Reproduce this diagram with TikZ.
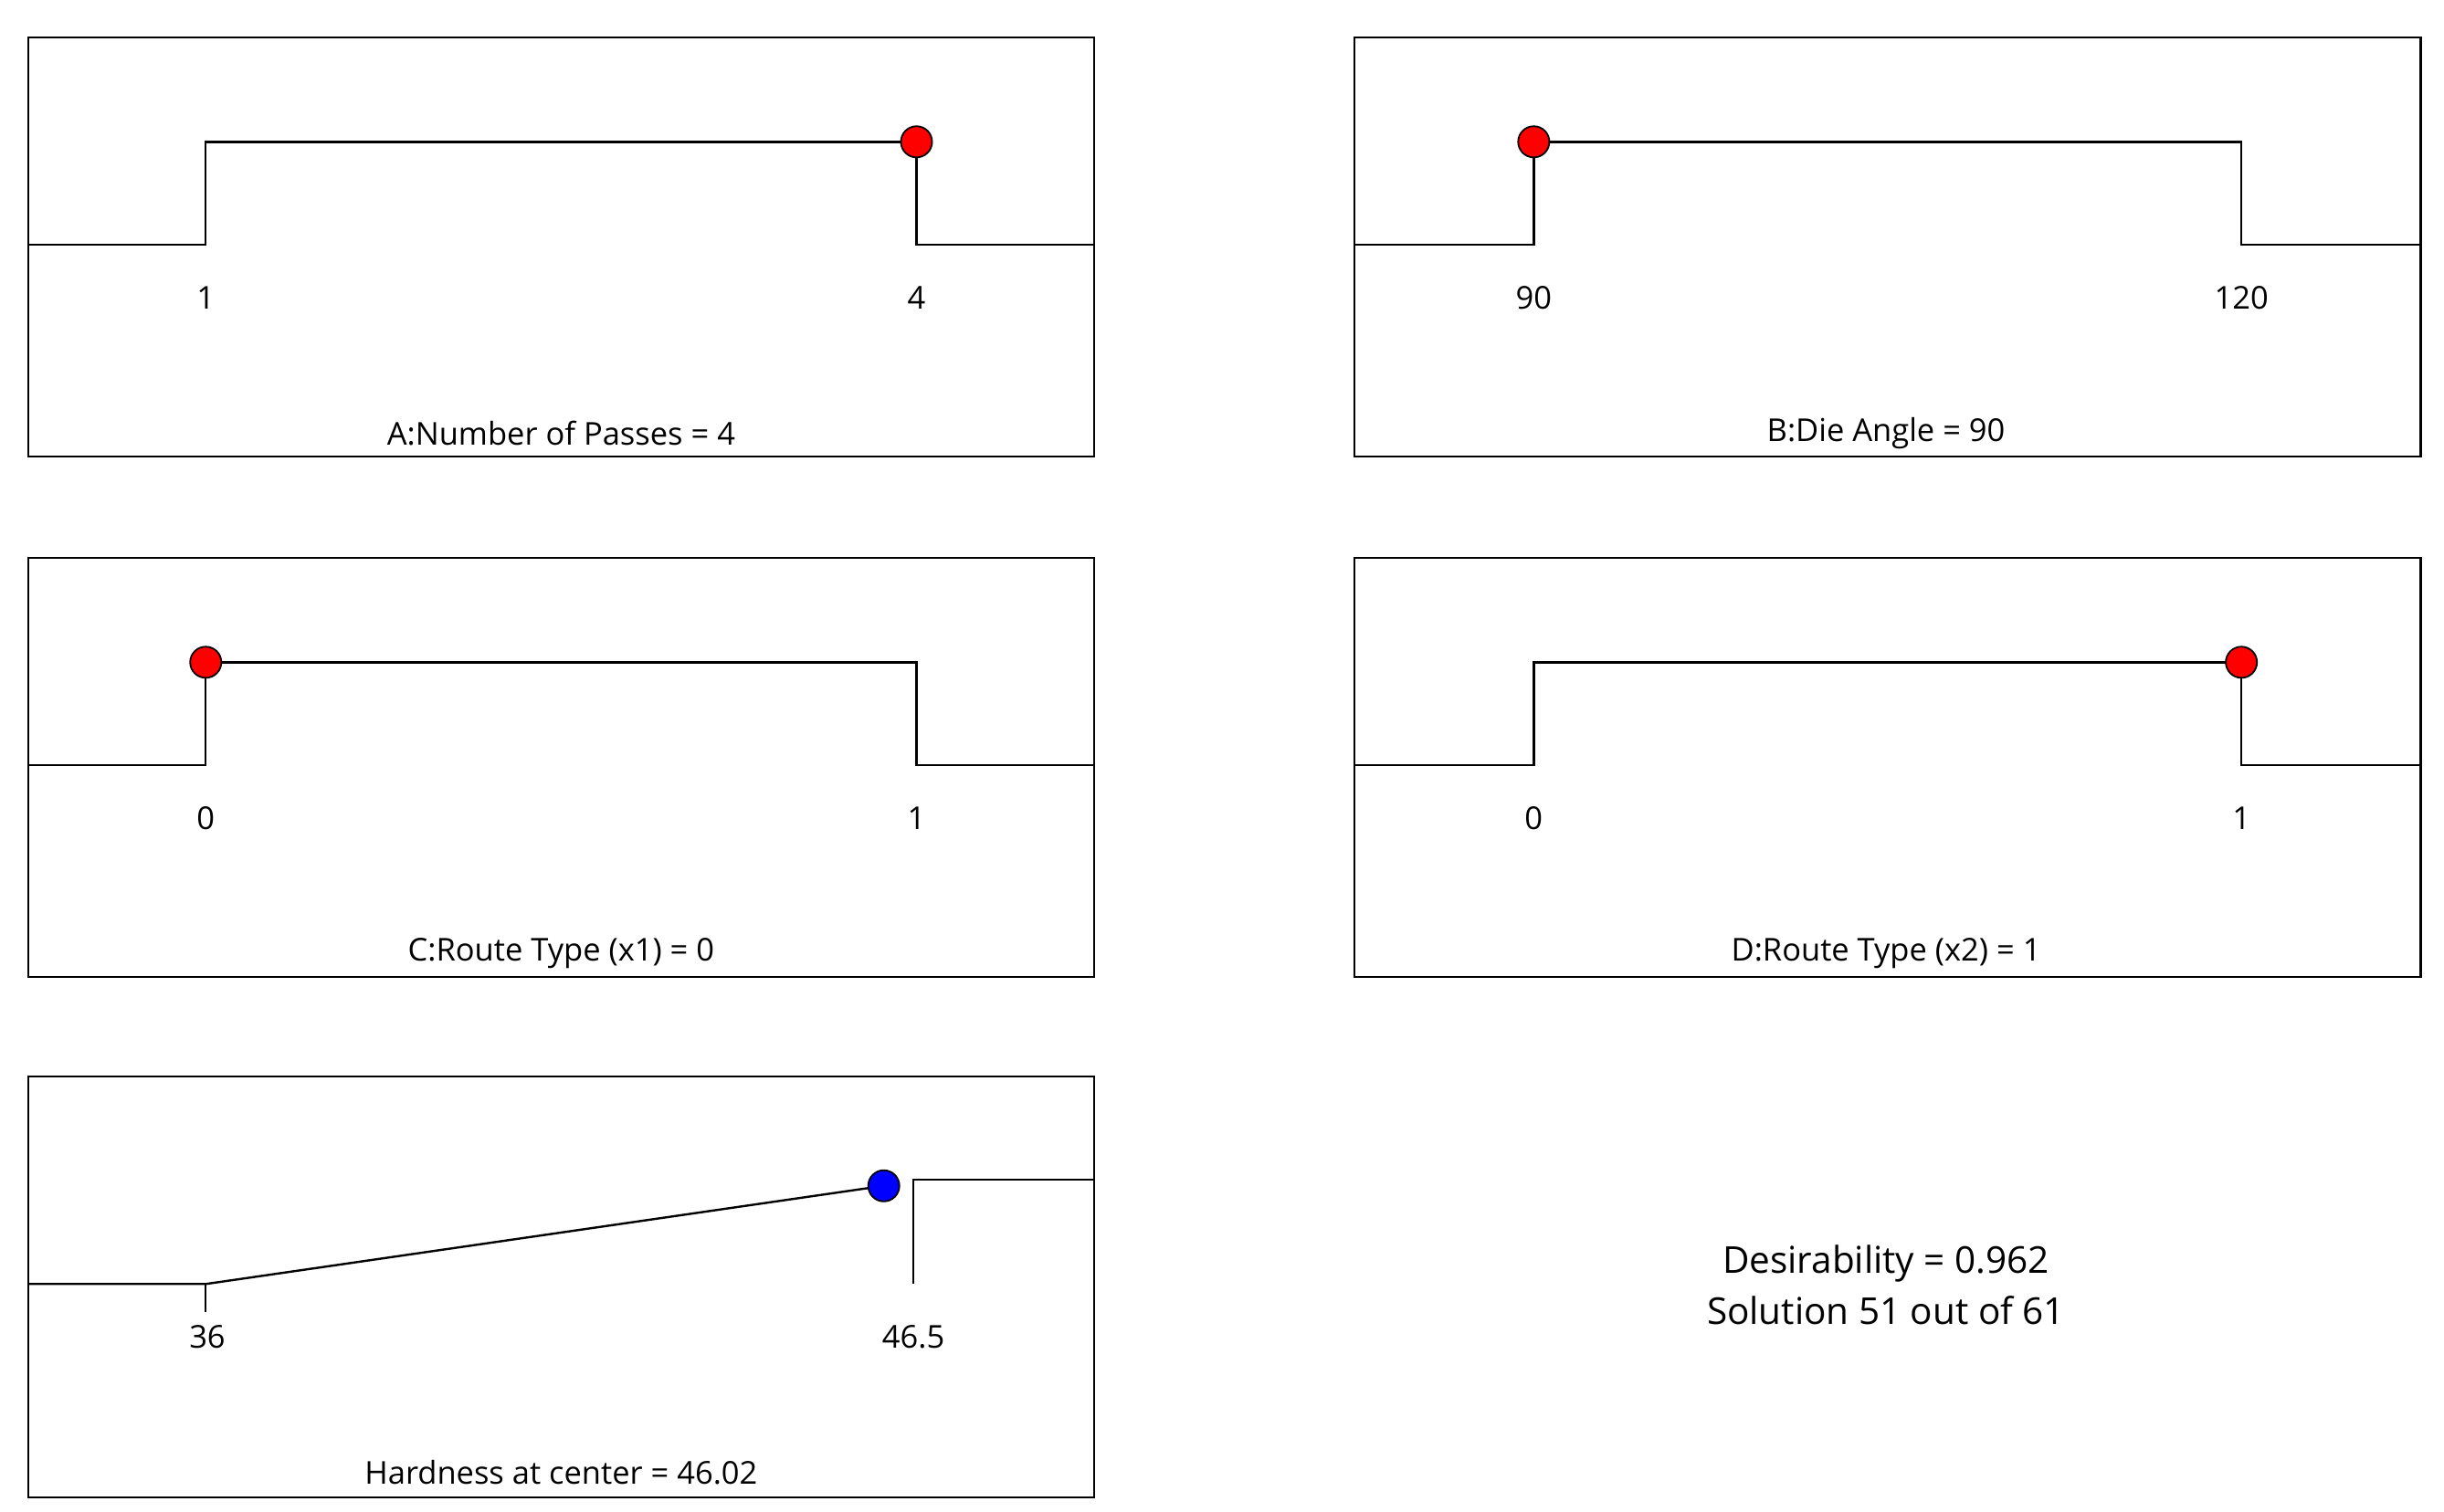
\documentclass[tikz,border=0pt]{standalone}
\usepackage{fontspec}
\setmainfont{Open Sans}
\begin{document}
\begin{tikzpicture}[x=0.02cm,y=-0.02cm,
  box/.style={draw,line width=0.8pt},
  ln/.style={line width=0.8pt},
  lab/.style={font=\fontsize{11.5}{13}\selectfont,inner sep=0pt},
  rdot/.style={circle,draw=black,fill=red,minimum size=0.4cm,inner sep=0pt,line width=0.6pt},
  bdot/.style={circle,draw=black,fill=blue,minimum size=0.4cm,inner sep=0pt,line width=0.6pt}]
\useasboundingbox (0,0) rectangle (1568,970);
% panel A
\draw[box] (18,24) rectangle (702,293);
\draw[ln] (18,157) -- (132,157) -- (132,91) -- (588,91) -- (588,157) -- (702,157);
\node[rdot] (da) at (588,91) {};
\node[lab] (a1) at (132,191) {1};
\node[lab] (a2) at (588,191) {4};
\node[lab] (ta) at (360,278) {A:Number of Passes = 4};
% panel B
\draw[box] (869,24) rectangle (1553,293);
\draw[ln] (869,157) -- (984,157) -- (984,91) -- (1438,91) -- (1438,157) -- (1553,157);
\node[rdot] (db) at (984,91) {};
\node[lab] (b1) at (984,191) {90};
\node[lab] (b2) at (1438,191) {120};
\node[lab] (tb) at (1210,278) {B:Die Angle = 90};
% panel C
\draw[box] (18,358) rectangle (702,627);
\draw[ln] (18,491) -- (132,491) -- (132,425) -- (588,425) -- (588,491) -- (702,491);
\node[rdot] (dc) at (132,425) {};
\node[lab] (c1) at (132,525) {0};
\node[lab] (c2) at (588,525) {1};
\node[lab] (tc) at (360,612) {C:Route Type (x1) = 0};
% panel D
\draw[box] (869,358) rectangle (1553,627);
\draw[ln] (869,491) -- (984,491) -- (984,425) -- (1438,425) -- (1438,491) -- (1553,491);
\node[rdot] (dd) at (1438,425) {};
\node[lab] (d1) at (984,525) {0};
\node[lab] (d2) at (1438,525) {1};
\node[lab] (td) at (1210,612) {D:Route Type (x2) = 1};
% panel E
\draw[box] (18,691) rectangle (702,961);
\draw[ln] (18,824) -- (132,824) -- (567,761);
\draw[ln] (132,824) -- (132,842);
\draw[ln] (586,824) -- (586,757) -- (702,757);
\node[bdot] (de) at (567,761) {};
\node[lab] (e1) at (133,858) {36};
\node[lab] (e2) at (586,858) {46.5};
\node[lab] (te) at (360,945) {Hardness at center = 46.02};
% summary
\node[lab,font=\fontsize{13.5}{16}\selectfont] (s1) at (1210,811) {Desirability = 0.962};
\node[lab,font=\fontsize{13.5}{16}\selectfont] (s2) at (1210,841) {Solution 51 out of 61};
\end{tikzpicture}
\end{document}
